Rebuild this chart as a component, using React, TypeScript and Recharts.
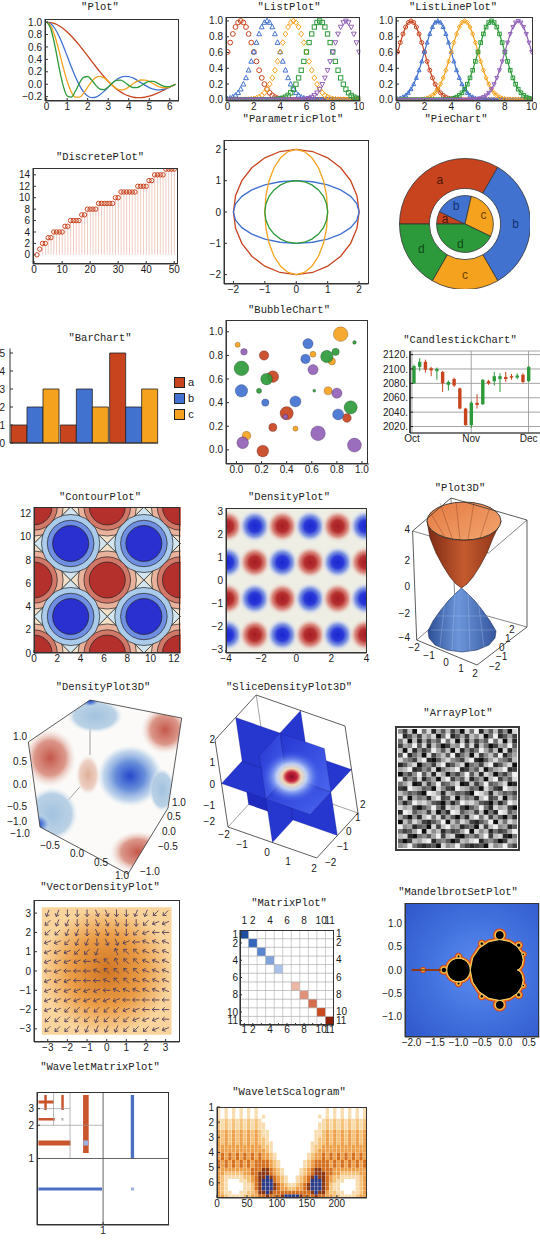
import React from 'react';
import {
  ComposedChart, ScatterChart, PieChart, Pie, Line, Bar, Scatter, Cell,
  XAxis, YAxis, ZAxis, CartesianGrid, ReferenceArea, ReferenceLine,
} from 'recharts';

const RED = '#c8441f';
const BLUE = '#4272d0';
const ORANGE = '#f5a31f';
const GREEN = '#2c9a3a';
const PURPLE = '#9261b7';
const SERIES = [RED, BLUE, ORANGE, GREEN, PURPLE];

const SANS = '"Liberation Sans", Arial, sans-serif';
const MONO = '"Liberation Mono", "DejaVu Sans Mono", monospace';
const TICK = { fill: '#1a1a1a', fontSize: 10, fontFamily: SANS };

const minus = (s: string) => s.replace('-', '\u2212');
const f0 = (v: number) => minus(String(v));
const f1 = (v: number) => minus(v.toFixed(1));
const range = (n: number) => Array.from({ length: n }, (_, i) => i);

/* ---------------- data ---------------- */

// Plot
const PLOT_X = [0, 0.2, 0.4, 0.6, 0.8, 1, 1.2, 1.4, 1.6, 1.8, 2, 2.2, 2.4, 2.6, 2.8, 3, 3.2, 3.4, 3.6, 3.8, 4, 4.2, 4.4, 4.6, 4.8, 5, 5.2, 5.4, 5.6, 5.8, 6, 6.2, 6.28];
const PLOT_RED = [1, 0.993, 0.974, 0.941, 0.897, 0.841, 0.777, 0.704, 0.625, 0.541, 0.455, 0.368, 0.281, 0.198, 0.12, 0.047, -0.018, -0.075, -0.123, -0.161, -0.189, -0.208, -0.216, -0.216, -0.208, -0.192, -0.17, -0.143, -0.113, -0.08, -0.047, -0.013, 0];
const PLOT_BLUE = [1, 0.974, 0.897, 0.777, 0.625, 0.455, 0.281, 0.12, -0.018, -0.123, -0.189, -0.216, -0.208, -0.17, -0.113, -0.047, 0.018, 0.073, 0.11, 0.127, 0.124, 0.102, 0.066, 0.024, -0.018, -0.054, -0.08, -0.091, -0.088, -0.071, -0.045, -0.013, 0];
const PLOT_ORANGE = [1, 0.941, 0.777, 0.541, 0.281, 0.047, -0.123, -0.208, -0.208, -0.143, -0.047, 0.047, 0.11, 0.128, 0.102, 0.046, -0.018, -0.069, -0.091, -0.081, -0.045, 0.003, 0.045, 0.068, 0.067, 0.043, 0.007, -0.029, -0.053, -0.057, -0.042, -0.013, 0];
const PLOT_GREEN = [1, 0.897, 0.625, 0.281, -0.018, -0.189, -0.208, -0.113, 0.018, 0.11, 0.124, 0.066, -0.018, -0.08, -0.088, -0.045, 0.018, 0.063, 0.067, 0.032, -0.018, -0.053, -0.054, -0.024, 0.018, 0.046, 0.045, 0.018, -0.018, -0.04, -0.038, -0.013, 0];

// ListPlot / ListLinePlot: one bump profile shifted to each centre
const LIST_CENTERS = [1, 3, 5, 7, 9];
const LIST_STEP = 0.2;
const LIST_COUNT = 51;
const BUMP = [1, 0.98, 0.923, 0.835, 0.726, 0.607, 0.487, 0.375, 0.278, 0.198, 0.135, 0.089, 0.056, 0.034, 0.02, 0.011, 0.006, 0.003, 0.002, 0.001];

// DiscretePlot
const PRIME_PI = [0, 1, 2, 2, 3, 3, 4, 4, 4, 4, 5, 5, 6, 6, 6, 6, 7, 7, 8, 8, 8, 8, 9, 9, 9, 9, 9, 9, 10, 10, 11, 11, 11, 11, 11, 11, 12, 12, 12, 12, 13, 13, 14, 14, 14, 14, 15, 15, 15, 15];

// shared unit shapes
const UNIT_CIRCLE: [number, number][] = [
  [1, 0], [0.966, 0.259], [0.866, 0.5], [0.707, 0.707], [0.5, 0.866], [0.259, 0.966],
  [0, 1], [-0.259, 0.966], [-0.5, 0.866], [-0.707, 0.707], [-0.866, 0.5], [-0.966, 0.259],
  [-1, 0], [-0.966, -0.259], [-0.866, -0.5], [-0.707, -0.707], [-0.5, -0.866], [-0.259, -0.966],
  [0, -1], [0.259, -0.966], [0.5, -0.866], [0.707, -0.707], [0.866, -0.5], [0.966, -0.259],
];
const DIAMOND: [number, number][] = [[1, 0], [0, 1], [-1, 0], [0, -1]];

// ParametricPlot: semi-axes of the four curves
const PARAM_RADII = [[2, 2], [2, 1], [1, 2], [1, 1]];

// PieChart
const PIE_KEYS = ['a', 'b', 'c', 'd'];
const PIE_OUTER = [2, 2, 1, 1];
const PIE_INNER = [1, 3, 4, 6];

// BarChart
const BAR_A = [1, 1, 5];
const BAR_B = [2, 3, 2];
const BAR_C = [3, 2, 3];

// BubbleChart
const BUB_X = [0.01, 0.06, 0.04, 0.04, 0.18, 0.22, 0.29, 0.24, 0.23, 0.08, 0.05, 0.21, 0.29, 0.4, 0.39, 0.47, 0.47, 0.57, 0.55, 0.61, 0.61, 0.62, 0.72, 0.79, 0.76, 0.83, 0.94, 0.73, 0.8, 0.91, 0.81, 0.88, 0.65, 0.94];
const BUB_Y = [0.89, 0.83, 0.69, 0.5, 0.5, 0.8, 0.62, 0.6, 0.4, 0.12, 0.06, -0.01, 0.19, 0.31, 0.28, 0.41, 0.18, 0.9, 0.77, 0.81, 0.68, 0.5, 0.79, 0.83, 0.75, 0.98, 0.91, 0.5, 0.48, 0.36, 0.3, 0.27, 0.14, 0.04];
const BUB_Z = [49, 81, 400, 289, 49, 169, 256, 256, 100, 144, 256, 256, 121, 324, 49, 225, 49, 196, 169, 64, 196, 16, 289, 100, 100, 400, 25, 121, 196, 324, 225, 144, 400, 361];
const BUB_S = [2, 4, 3, 1, 3, 0, 0, 3, 1, 2, 4, 0, 0, 0, 4, 1, 2, 1, 1, 2, 4, 3, 3, 3, 2, 2, 3, 2, 4, 3, 1, 0, 4, 4];

// CandlestickChart (days since 1 Oct)
const CANDLE_DAY = [1, 4, 7, 10, 13, 16, 19, 22, 25, 28, 31, 34, 37, 40, 43, 46, 49, 52, 55, 58, 61];
const CANDLE_OPEN = [2080, 2103, 2110, 2101, 2097, 2096, 2078, 2086, 2073, 2045, 2022, 2053, 2051, 2083, 2083, 2086, 2089, 2090, 2088, 2092, 2083];
const CANDLE_CLOSE = [2104, 2110, 2099, 2098, 2100, 2080, 2082, 2077, 2045, 2022, 2053, 2050, 2085, 2080, 2090, 2090, 2086, 2088, 2091, 2082, 2103];
const CANDLE_HIGH = [2106, 2115, 2113, 2103, 2102, 2097, 2084, 2088, 2074, 2046, 2055, 2065, 2086, 2085, 2096, 2094, 2096, 2093, 2094, 2094, 2104];
const CANDLE_LOW = [2079, 2097, 2095, 2090, 2085, 2068, 2070, 2075, 2044, 2021, 2018, 2045, 2050, 2078, 2077, 2068, 2082, 2085, 2086, 2080, 2082];

// ContourPlot: maxima / minima and contour radii
const CONT_MAX = [[0, 0], [6.283, 0], [12.566, 0], [0, 6.283], [6.283, 6.283], [12.566, 6.283], [0, 12.566], [6.283, 12.566], [12.566, 12.566]];
const CONT_MIN = [[3.142, 3.142], [9.425, 3.142], [3.142, 9.425], [9.425, 9.425]];
const CONT_RADII = [3.1416, 2.5, 2.0, 1.55];
const CONT_RED = ['#f2dfc8', '#e8b29c', '#d27868', '#b3302d'];
const CONT_BLUE = ['#d3e6ef', '#abcbeb', '#6f8fe3', '#2a2fcf'];

// DensityPlot
const DENS_X = [-3.93, -2.36, -0.79, 0.79, 2.36, 3.93];
const DENS_Y = [2.36, 0.79, -0.79, -2.36];
const DENS_SIGN = ['+-+-+-', '-+-+-+', '+-+-+-', '-+-+-+'];

// Plot3D (projected screen coordinates)
const P3_CUP = [[427, 521], [430, 538], [436, 553], [443, 566], [450, 577], [456, 584], [461.5, 588], [467, 584], [473, 577], [480, 566], [487, 553], [493, 538], [501, 521], [497, 530], [488, 536], [476, 539.5], [464, 540], [452, 539.5], [440, 536], [431, 530]];
const P3_RIM = [464, 521, 37, 19];
const P3_DOME = [[461.5, 588], [456, 593], [448, 601], [440, 611], [433, 621], [428, 631], [429, 638], [435, 645], [447, 650], [462, 652], [477, 650], [489, 645], [495, 638], [496, 631], [490, 621], [483, 611], [475, 601], [467, 593]];
const P3_BACK_EDGES = [[[451, 498], [455, 607]], [[416.7, 640], [455, 607]], [[455, 607], [527, 627]], [[412.6, 531], [488.6, 553]], [[488.6, 553], [527, 520]]];
const P3_FRONT_EDGES = [[[412.6, 531], [451, 498]], [[451, 498], [527, 520]], [[412.6, 531], [416.7, 640]], [[416.7, 640], [477, 665]], [[477, 665], [527, 627]], [[527, 520], [527, 627]]];
const P3_MESH = [[[440, 503], [452, 538]], [[456, 502], [460, 540]], [[474, 502], [468, 540]], [[490, 507], [480, 538]], [[430, 512], [446, 539]], [[445, 600], [440, 646]], [[455, 592], [452, 650]], [[468, 592], [470, 651]], [[478, 600], [484, 647]], [[437, 616], [489, 616]], [[431, 630], [495, 630]]];

// DensityPlot3D (projected screen coordinates, value = density sign/strength)
const D3_HEX = [[90, 700], [181.7, 718], [168, 808], [128, 874], [40, 827], [28.3, 742]];
const D3_BLOBS = [
  [95, 716, 28, 17, -0.5], [165, 730, 24, 24, 1], [50, 758, 26, 29, 1], [88, 775, 12, 20, 0.5],
  [130, 776, 33, 31, -1], [162, 790, 13, 22, -0.5], [52, 814, 26, 27, -0.5], [138, 852, 28, 21, 1],
  [90, 701, 10, 6, -1], [38, 824, 12, 10, -1],
];
const D3_INNER = [[[90, 726.7], [90, 755]], [[68.3, 800], [80, 786.7]]];

// SliceDensityPlot3D: projection of the box axes
const SL_O = [286.5, 776.5];
const SL_EX = [22.2, 7.75];
const SL_EY = [10.3, -11.25];
const SL_EZ = [-3.25, -21.75];
const SL_QUADS: [string, number, number, number][] = [
  ['z', -1, 1, 0], ['x', 1, -1, 0], ['y', -1, -1, 0],
  ['z', 1, 1, 1], ['z', -1, -1, 1], ['x', 1, 1, 1], ['x', -1, -1, 1], ['y', 1, -1, 1], ['y', -1, 1, 1],
  ['z', 1, -1, 2], ['x', -1, 1, 2], ['y', 1, 1, 2],
];

// ArrayPlot grey levels (0 white .. 9 black)
const ARR_ROWS = [
  '4729051836274915083627491', '0863724195086372419508637', '5192837460519283746051928',
  '7340618259734061825973406', '2918475036291847503629184', '6085391742608539174260853',
  '1457208963145720896314572', '8631954720863195472086319', '3208746195320874619532087',
  '9574062813957406281395740', '0746185392074618539207461', '5319827406531982740653198',
  '7802365914780236591478023', '2465790138246579013824657', '6193548207619354820761935',
  '4850213679485021367948502', '1327964058132796405813279', '8016437295801643729580164',
  '3694820517369482051736948', '9251378640925137864092513', '0438659172043865917204386',
  '5763091428576309142857630', '2189546307218954630721895', '6972310854697231085469723',
  '4305787691430578769143057',
];

// VectorDensityPlot: arrow directions in 16ths of a turn, rows y = 3 .. -3
const VEC_GRID = [-3, -2.5, -2, -1.5, -1, -0.5, 0, 0.5, 1, 1.5, 2, 2.5, 3];
const VEC_DIRS = [
  'bbcccddccbbaa', 'abbccdddcca99', 'aabbcdddca988', '99abbcdd98777', '999aab.566777',
  '9999876566777', '8988876666777', '9998887667777', '9999998777777', '9999999988888',
  '99aaaaaa99888', 'aaaaabaaa9998', 'aaabbbbbaaa99',
];

// MatrixPlot
const MAT_DIAG = [-5, -4, -3, -2, -1, 0, 1, 2, 3, 4, 5];
const MAT_LABELS = [1, 2, 4, 6, 8, 10, 11];
const MAT_COLORS: Record<number, string> = {
  [-5]: '#1d4f9e', [-4]: '#3466bd', [-3]: '#5a86cf', [-2]: '#80a3dc', [-1]: '#a9c2e9', 0: '#ffffff',
  1: '#ecb8a6', 2: '#e0927a', 3: '#d46d4d', 4: '#c94a1e', 5: '#8f1f06',
};

// MandelbrotSetPlot
const MB_CARDIOID = [[0.25, 0], [0.2665, 0.0044], [0.308, 0.0335], [0.3536, 0.1036], [0.375, 0.2165], [0.346, 0.358], [0.25, 0.5], [0.087, 0.608], [-0.125, 0.6495], [-0.3536, 0.6036], [-0.558, 0.4665], [-0.6995, 0.2544], [-0.75, 0]];
const MB_BULBS = [[-1, 0, 0.25], [-0.1226, 0.7449, 0.094], [-0.1226, -0.7449, 0.094], [-1.3107, 0, 0.058], [0.2822, 0.5301, 0.044], [0.2822, -0.5301, 0.044], [-0.5043, 0.5627, 0.037], [-0.5043, -0.5627, 0.037], [0.3795, 0.3349, 0.025], [0.3795, -0.3349, 0.025], [-1.7549, 0, 0.018], [-1.0, 0.29, 0.03], [-1.0, -0.29, 0.03]];

// WaveletMatrixPlot: coefficient blocks [x1, x2, y1, y2, value]
const WM_BLOCKS = [
  [0.697, 0.782, 1.083, 1.955, 1], [1.418, 1.469, 1.0, 1.955, -1], [0.021, 0.985, 0.519, 0.564, -1],
  [1.42, 1.47, 0.519, 0.564, -0.4], [0.7, 0.776, 1.196, 1.271, -0.4], [0.021, 0.508, 1.196, 1.271, 1],
  [0.021, 0.269, 1.571, 1.609, 1], [0.021, 0.254, 1.827, 1.872, 1], [0.11, 0.148, 1.729, 1.955, 1],
  [0.368, 0.405, 1.729, 1.955, 1], [0.37, 0.4, 1.57, 1.61, 0.2],
];
const WM_LINES = [[1, 0, 1, 2], [0, 1, 2, 1], [0.5, 1, 0.5, 2], [0, 1.5, 1, 1.5], [0.25, 1.5, 0.25, 2], [0, 1.75, 0.5, 1.75]];

// WaveletScalogram: magnitude level per cell, 24 scale rows x 40 time columns
const SCALO_STEP = 6.25;
const SCALO_ROWS = [
  '1010101010100' + '00000000000000' + '0010101010101',
  '1010101010100' + '00000000000000' + '0010101010101',
  '1010101010101' + '00000000000000' + '1010101010101',
  '2121212121210' + '00000000000000' + '0121212121212',
  '2121212121211' + '00000000000000' + '1121212121212',
  '2121212121211' + '00000000000000' + '1121212121212',
  '3232323232321' + '10000000000001' + '1232323232323',
  '3232323232321' + '10000000000001' + '1232323232323',
  '3232323232322' + '10000000000001' + '2232323232323',
  '3232323232322' + '11000000000011' + '2232323232323',
  '3333333333332' + '21000000000012' + '2333333333333',
  '3333333333333' + '21000000000012' + '3333333333333',
  '3434343434343' + '32100000000123' + '3434343434343',
  '3434343434343' + '32100000000123' + '3434343434343',
  '4343434343444' + '43210000001234' + '4443434343434',
  '4343434343444' + '43210000001234' + '4443434343434',
  '3333333334445' + '54321000012345' + '5444333333333',
  '3322222334455' + '54321000012345' + '5544332222233',
  '3211111223455' + '65432100123456' + '5543221111123',
  '3210001123456' + '66432100123466' + '6543211000123',
  '3210000112456' + '66543211234566' + '6542110000123',
  '3210000112456' + '66543322334566' + '6542110000123',
  '3211001122355' + '65444444444456' + '5532211001123',
  '3321111223344' + '54445666654445' + '4433221111233',
];
const SCALO_COLORS = ['#ffffff', '#f9dcae', '#f5c27a', '#eda04a', '#d46f1e', '#8a3712', '#2a3a86'];

/* ---------------- helpers ---------------- */

type Pt = { x: number; y: number };
type Box = { l: number; t: number; r: number; b: number };

const shapeAt = (unit: [number, number][], cx: number, cy: number, rx: number, ry: number): Pt[] =>
  unit.map(([u, v]) => ({ x: cx + u * rx, y: cy + v * ry }));
const pts = (list: number[][]): Pt[] => list.map(([x, y]) => ({ x, y }));

const NoDot = () => <g />;

function poly(key: string, data: Pt[], fill: string, stroke = 'none', strokeWidth = 0.8, closed = true) {
  return (
    <Scatter
      key={key}
      data={data}
      shape={NoDot}
      line={{ fill, stroke, strokeWidth }}
      lineType="joint"
      lineJointType={closed ? 'linearClosed' : 'linear'}
      isAnimationActive={false}
    />
  );
}

const YW = 34;
const XH = 16;
const at = (box: Box, pad = 2): React.CSSProperties => ({ position: 'absolute', left: box.l - YW, top: box.t - pad });
const dims = (box: Box, pad = 2) => ({
  width: box.r - box.l + YW + 4,
  height: box.b - box.t + pad + XH,
  margin: { top: pad, right: 4, bottom: 0, left: 0 },
});
const X_PROPS = { height: XH, tickSize: -3, tickMargin: 5, tick: TICK, stroke: '#333', allowDataOverflow: true, interval: 0 as const };
const Y_PROPS = { width: YW, tickSize: -3, tickMargin: 6, tick: TICK, stroke: '#333', allowDataOverflow: true, interval: 0 as const };

function FrameBox({ box, w = 1 }: { box: Box; w?: number }) {
  return (
    <div style={{
      position: 'absolute', left: box.l, top: box.t, width: box.r - box.l, height: box.b - box.t,
      border: `${w}px solid #333`, boxSizing: 'border-box', pointerEvents: 'none',
    }} />
  );
}

function Lbl({ x, y, t, size = 10, anchor = 'middle' }: { x: number; y: number; t: string; size?: number; anchor?: string }) {
  const tx = anchor === 'end' ? '-100%' : anchor === 'start' ? '0' : '-50%';
  return (
    <div style={{
      position: 'absolute', left: x, top: y, transform: `translate(${tx}, -50%)`, fontSize: size,
      fontFamily: SANS, color: '#1a1a1a', whiteSpace: 'nowrap', lineHeight: 1,
    }}>{t}</div>
  );
}

function Screen({ l, t, w, h, children }: { l: number; t: number; w: number; h: number; children: React.ReactNode }) {
  return (
    <div style={{ position: 'absolute', left: l, top: t }}>
      <ScatterChart width={w} height={h} margin={{ top: 0, right: 0, bottom: 0, left: 0 }}>
        <XAxis type="number" dataKey="x" domain={[l, l + w]} hide allowDataOverflow />
        <YAxis type="number" dataKey="y" domain={[t, t + h]} reversed hide allowDataOverflow />
        {children}
      </ScatterChart>
    </div>
  );
}

function marker(kind: number, color: string, s = 2.4) {
  return (p: any) => {
    const { cx, cy } = p;
    if (cx == null || cy == null) return <g />;
    const st = { fill: 'none', stroke: color, strokeWidth: 1 };
    if (kind === 0) return <circle cx={cx} cy={cy} r={s} {...st} />;
    if (kind === 1) return <path d={`M${cx},${cy - s * 1.15}L${cx + s},${cy + s * 0.75}L${cx - s},${cy + s * 0.75}Z`} {...st} />;
    if (kind === 2) return <path d={`M${cx},${cy - s * 1.2}L${cx + s},${cy}L${cx},${cy + s * 1.2}L${cx - s},${cy}Z`} {...st} />;
    if (kind === 3) return <rect x={cx - s * 0.9} y={cy - s * 0.9} width={s * 1.8} height={s * 1.8} {...st} />;
    return <path d={`M${cx},${cy + s * 1.15}L${cx + s},${cy - s * 0.75}L${cx - s},${cy - s * 0.75}Z`} {...st} />;
  };
}

function Defs() {
  const stop = (o: number, c: string, a = 1) => <stop key={o} offset={o} stopColor={c} stopOpacity={a} />;
  return (
    <svg width={0} height={0} style={{ position: 'absolute' }}>
      <defs>
        <radialGradient id="dRed">{[stop(0, '#a51c24'), stop(0.35, '#b6302f'), stop(0.62, '#d77a70', 0.85), stop(0.85, '#ecd3c8', 0.4), stop(1, '#f1efe6', 0)]}</radialGradient>
        <radialGradient id="dBlue">{[stop(0, '#1a25d0'), stop(0.35, '#2a3ad8'), stop(0.62, '#7088e0', 0.85), stop(0.85, '#d0daf0', 0.4), stop(1, '#f1efe6', 0)]}</radialGradient>
        <radialGradient id="vdBg">{[stop(0, '#d07524'), stop(0.55, '#eb9c45'), stop(1, '#f9d49c')]}</radialGradient>
        <radialGradient id="mbBg" cx="0.55" cy="0.5" r="0.7">{[stop(0, '#5f8ef0'), stop(0.5, '#4272de'), stop(1, '#3058cc')]}</radialGradient>
        <linearGradient id="cupOut" x1="0" x2="1" y1="0" y2="0">{[stop(0, '#7c2a14'), stop(0.5, '#c45a2e'), stop(1, '#8a3217')]}</linearGradient>
        <linearGradient id="cupIn" x1="0" x2="1" y1="0" y2="1">{[stop(0, '#e47a42'), stop(1, '#f3a56f')]}</linearGradient>
        <linearGradient id="dome" x1="0" x2="1" y1="0" y2="0">{[stop(0, '#2d4f96'), stop(0.45, '#6c96da'), stop(1, '#34559e')]}</linearGradient>
        <radialGradient id="d3Red">{[stop(0, '#c4574a'), stop(0.6, '#d88d7e', 0.9), stop(1, '#efd8d0', 0)]}</radialGradient>
        <radialGradient id="d3LRed">{[stop(0, '#e0ad98'), stop(0.7, '#e8c4b4', 0.8), stop(1, '#f3e4df', 0)]}</radialGradient>
        <radialGradient id="d3Blue">{[stop(0, '#2447cc'), stop(0.45, '#5f88d8', 0.95), stop(0.8, '#a9c6e6', 0.7), stop(1, '#d5e4f2', 0)]}</radialGradient>
        <radialGradient id="d3LBlue">{[stop(0, '#a2c2df'), stop(0.75, '#b3cde3', 0.9), stop(1, '#e6eef6', 0)]}</radialGradient>
        <linearGradient id="slBlue" x1="0" x2="1" y1="0" y2="1">{[stop(0, '#2535d2'), stop(1, '#4a66ee')]}</linearGradient>
        <radialGradient id="slGlow">{[stop(0, '#8c0a28'), stop(0.18, '#c4243a'), stop(0.32, '#f0d8b8'), stop(0.5, '#d4e4f8', 0.85), stop(0.75, '#6f8ef0', 0.5), stop(1, '#3a55e6', 0)]}</radialGradient>
      </defs>
    </svg>
  );
}

const TITLES: [string, number, number][] = [
  ['Plot', 100, 7], ['ListPlot', 289, 7], ['ListLinePlot', 453, 7],
  ['DiscretePlot', 100, 157], ['ParametricPlot', 293, 119], ['PieChart', 456, 119],
  ['BarChart', 100, 338], ['BubbleChart', 289, 310], ['CandlestickChart', 460, 340],
  ['ContourPlot', 100, 497], ['DensityPlot', 289, 497], ['Plot3D', 460, 488],
  ['DensityPlot3D', 103, 687], ['SliceDensityPlot3D', 289, 687], ['ArrayPlot', 458, 713],
  ['VectorDensityPlot', 100, 887], ['MatrixPlot', 289, 903], ['MandelbrotSetPlot', 458, 892],
  ['WaveletMatrixPlot', 100, 1067], ['WaveletScalogram', 289, 1092],
];

/* ---------------- panels ---------------- */

const PLOT_BOX = { l: 45, t: 19, r: 179, b: 101 };
function PlotPanel() {
  const rows = PLOT_X.map((x, i) => ({ x, a: PLOT_RED[i], b: PLOT_BLUE[i], c: PLOT_ORANGE[i], d: PLOT_GREEN[i] }));
  return (
    <div style={at(PLOT_BOX)}>
      <ComposedChart {...dims(PLOT_BOX)} data={rows}>
        <XAxis type="number" dataKey="x" domain={[-0.08, 6.45]} ticks={[0, 1, 2, 3, 4, 5, 6]} {...X_PROPS} />
        <YAxis type="number" domain={[-0.27, 1.05]} ticks={[-0.2, 0, 0.2, 0.4, 0.6, 0.8, 1]} tickFormatter={f1} {...Y_PROPS} />
        {['a', 'b', 'c', 'd'].map((k, i) => (
          <Line key={k} dataKey={k} type="monotone" stroke={SERIES[i]} strokeWidth={1.3} dot={false} isAnimationActive={false} />
        ))}
      </ComposedChart>
    </div>
  );
}

const LIST_ROWS = range(LIST_COUNT).map((i) => {
  const x = +(i * LIST_STEP).toFixed(1);
  const row: any = { x };
  LIST_CENTERS.forEach((c, k) => {
    row['s' + k] = BUMP[Math.round(Math.abs(x - c) / LIST_STEP)] ?? 0;
  });
  return row;
});

const LIST_BOX = { l: 225.6, t: 17, r: 360, b: 101 };
function ListPlotPanel() {
  return (
    <div style={at(LIST_BOX)}>
      <ScatterChart {...dims(LIST_BOX)}>
        <XAxis type="number" dataKey="x" domain={[-0.12, 10.1]} ticks={[0, 2, 4, 6, 8, 10]} {...X_PROPS} />
        <YAxis type="number" dataKey="y" domain={[-0.015, 1.05]} ticks={[0, 0.2, 0.4, 0.6, 0.8, 1]} tickFormatter={f1} {...Y_PROPS} />
        {LIST_CENTERS.map((_, k) => (
          <Scatter key={k} data={LIST_ROWS.map((r) => ({ x: r.x, y: r['s' + k] }))} shape={marker(k, SERIES[k], 2.4)} isAnimationActive={false} />
        ))}
      </ScatterChart>
    </div>
  );
}

const LLP_BOX = { l: 396, t: 17, r: 533, b: 101 };
function ListLinePanel() {
  return (
    <div style={at(LLP_BOX)}>
      <ComposedChart {...dims(LLP_BOX)} data={LIST_ROWS}>
        <XAxis type="number" dataKey="x" domain={[-0.12, 10.1]} ticks={[0, 2, 4, 6, 8, 10]} {...X_PROPS} />
        <YAxis type="number" domain={[-0.015, 1.05]} ticks={[0, 0.2, 0.4, 0.6, 0.8, 1]} tickFormatter={f1} {...Y_PROPS} />
        {LIST_CENTERS.map((_, k) => (
          <Line key={k} dataKey={'s' + k} type="linear" stroke={SERIES[k]} strokeWidth={1.2} dot={marker(k, SERIES[k], 2)} isAnimationActive={false} />
        ))}
      </ComposedChart>
    </div>
  );
}

const DISC_BOX = { l: 33.4, t: 168, r: 178, b: 264 };
function DiscretePanel() {
  const rows = PRIME_PI.map((v, i) => ({ n: i + 1, v }));
  return (
    <div style={at(DISC_BOX)}>
      <ComposedChart {...dims(DISC_BOX)} data={rows}>
        <XAxis type="number" dataKey="n" domain={[-0.4, 51.2]} ticks={[0, 10, 20, 30, 40, 50]} {...X_PROPS} />
        <YAxis type="number" domain={[-1.6, 15.2]} ticks={[0, 2, 4, 6, 8, 10, 12, 14]} {...Y_PROPS} />
        <Bar dataKey="v" barSize={1} fill="#efcdc3" isAnimationActive={false} />
        <Line dataKey="v" stroke="none" dot={marker(0, RED, 2.2)} isAnimationActive={false} />
      </ComposedChart>
    </div>
  );
}

const PARAM_BOX = { l: 224, t: 140, r: 368.5, b: 284 };
function ParametricPanel() {
  return (
    <div style={at(PARAM_BOX)}>
      <ScatterChart {...dims(PARAM_BOX)}>
        <XAxis type="number" dataKey="x" domain={[-2.3, 2.3]} ticks={[-2, -1, 0, 1, 2]} tickFormatter={f0} {...X_PROPS} />
        <YAxis type="number" dataKey="y" domain={[-2.3, 2.3]} ticks={[-2, -1, 0, 1, 2]} tickFormatter={f0} {...Y_PROPS} />
        {PARAM_RADII.map(([rx, ry], i) => poly('p' + i, shapeAt(UNIT_CIRCLE, 0, 0, rx, ry), 'none', SERIES[i], 1.3))}
      </ScatterChart>
    </div>
  );
}

const RAD = Math.PI / 180;
const PIE_TEXT = ['#4d1506', '#12306e', '#6b4200', '#0f4a16'];
function pieLabel(ratio: number) {
  return (p: any) => {
    const r = p.innerRadius + (p.outerRadius - p.innerRadius) * ratio;
    const x = p.cx + r * Math.cos(-p.midAngle * RAD);
    const y = p.cy + r * Math.sin(-p.midAngle * RAD);
    return (
      <text x={x} y={y} textAnchor="middle" dominantBaseline="central" fontSize={12} fontFamily={SANS} fill={PIE_TEXT[p.index]}>
        {p.name}
      </text>
    );
  };
}
function PiePanel() {
  const outer = PIE_KEYS.map((k, i) => ({ k, v: PIE_OUTER[i] }));
  const inner = PIE_KEYS.map((k, i) => ({ k, v: PIE_INNER[i] }));
  return (
    <div style={{ position: 'absolute', left: 390, top: 149 }}>
      <PieChart width={140} height={140}>
        <Pie data={outer} dataKey="v" nameKey="k" cx={70} cy={70} innerRadius={35.6} outerRadius={65.5} startAngle={180} endAngle={-180}
          stroke="#333" strokeWidth={0.8} label={pieLabel(0.5)} labelLine={false} isAnimationActive={false}>
          {outer.map((_, i) => <Cell key={i} fill={SERIES[i]} />)}
        </Pie>
        <Pie data={inner} dataKey="v" nameKey="k" cx={70} cy={70} innerRadius={0} outerRadius={28.4} startAngle={180} endAngle={-180}
          stroke="#333" strokeWidth={0.8} label={pieLabel(0.72)} labelLine={false} isAnimationActive={false}>
          {inner.map((_, i) => <Cell key={i} fill={SERIES[i]} />)}
        </Pie>
      </PieChart>
    </div>
  );
}

function BarPanel() {
  const rows = BAR_A.map((a, i) => ({ g: String(i + 1), a, b: BAR_B[i], c: BAR_C[i] }));
  return (
    <>
      <div style={{ position: 'absolute', left: 0, top: 344 }}>
        <ComposedChart width={160} height={109} margin={{ top: 4.5, right: 2, bottom: 0, left: 0 }} data={rows} barCategoryGap={1} barGap={0}>
          <XAxis dataKey="g" tick={false} height={10} stroke="#333" tickLine={false} />
          <YAxis type="number" domain={[0, 5.25]} ticks={[0, 1, 2, 3, 4, 5]} interval={0} width={10} tick={TICK} tickSize={-3} tickMargin={8} stroke="#333" />
          {['a', 'b', 'c'].map((k, i) => (
            <Bar key={k} dataKey={k} fill={SERIES[i]} stroke="#222" strokeWidth={0.8} isAnimationActive={false} />
          ))}
        </ComposedChart>
      </div>
      {['a', 'b', 'c'].map((k, i) => (
        <React.Fragment key={k}>
          <div style={{ position: 'absolute', left: 174, top: 377 + i * 16, width: 9, height: 9, background: SERIES[i], border: '1px solid #222' }} />
          <Lbl x={191} y={382 + i * 16} t={k} size={11} />
        </React.Fragment>
      ))}
    </>
  );
}

const BUB_BOX = { l: 225.6, t: 320, r: 368.5, b: 464 };
function BubblePanel() {
  const all = BUB_X.map((x, i) => ({ x, y: BUB_Y[i], z: BUB_Z[i], s: BUB_S[i] }));
  return (
    <div style={at(BUB_BOX)}>
      <ScatterChart {...dims(BUB_BOX)}>
        <XAxis type="number" dataKey="x" domain={[-0.083, 1.055]} ticks={[0, 0.2, 0.4, 0.6, 0.8, 1]} tickFormatter={f1} {...X_PROPS} />
        <YAxis type="number" dataKey="y" domain={[-0.12, 1.1]} ticks={[0, 0.2, 0.4, 0.6, 0.8, 1]} tickFormatter={f1} {...Y_PROPS} />
        <ZAxis type="number" dataKey="z" domain={[0, 400]} range={[0, 170]} />
        {SERIES.map((c, s) => (
          <Scatter key={s} data={all.filter((b) => b.s === s)} fill={c} fillOpacity={0.92} stroke="rgba(0,0,0,0.35)" strokeWidth={0.6} isAnimationActive={false} />
        ))}
      </ScatterChart>
    </div>
  );
}

function Candle(props: any) {
  const { x, y, width, height, payload } = props;
  if (!payload) return <g />;
  const top = Math.min(y, y + height);
  const h = Math.abs(height);
  const { open, close, high, low } = payload;
  const span = high - low || 1;
  const py = (v: number) => top + ((high - v) / span) * h;
  const cx = x + width / 2;
  const color = close >= open ? GREEN : RED;
  const b0 = py(Math.max(open, close));
  const b1 = py(Math.min(open, close));
  return (
    <g>
      <line x1={cx} x2={cx} y1={top} y2={top + h} stroke={color} strokeWidth={1} />
      <rect x={cx - 1.7} y={b0} width={3.4} height={Math.max(b1 - b0, 1)} fill={color} />
    </g>
  );
}
const MONTHS: Record<number, string> = { 0: 'Oct', 31: 'Nov', 61: 'Dec' };
function CandlePanel() {
  const rows = CANDLE_DAY.map((day, i) => ({
    day, range: [CANDLE_LOW[i], CANDLE_HIGH[i]], open: CANDLE_OPEN[i], close: CANDLE_CLOSE[i], high: CANDLE_HIGH[i], low: CANDLE_LOW[i],
  }));
  return (
    <div style={{ position: 'absolute', left: 365, top: 348 }}>
      <ComposedChart width={180} height={99} margin={{ top: 3, right: 0, bottom: 0, left: 0 }} data={rows}>
        <CartesianGrid stroke="#9a9a9a" strokeWidth={0.9} />
        <XAxis type="number" dataKey="day" domain={[-1, 69.6]} ticks={[0, 31, 61]} interval={0} tickFormatter={(d: number) => MONTHS[d] ?? ''}
          height={14} tick={TICK} tickSize={0} tickMargin={2} stroke="#222" />
        <YAxis type="number" domain={[2011, 2125]} ticks={[2020, 2040, 2060, 2080, 2100, 2120]} interval={0} tickFormatter={(v: number) => v + '.'}
          width={45} tick={TICK} tickSize={-3} tickMargin={5} stroke="#222" axisLine={{ stroke: '#222', strokeWidth: 1.6 }} />
        <Bar dataKey="range" barSize={4} shape={Candle} isAnimationActive={false} />
      </ComposedChart>
    </div>
  );
}

const CONT_BOX = { l: 33.5, t: 507, r: 180, b: 653 };
function ContourPanel() {
  const layers: React.ReactNode[] = [];
  CONT_RADII.forEach((r, lvl) => {
    const unit = lvl === 0 ? DIAMOND : UNIT_CIRCLE;
    CONT_MAX.forEach(([x, y], i) => layers.push(poly(`r${lvl}-${i}`, shapeAt(unit, x, y, r, r), CONT_RED[lvl], '#222', 0.7)));
    CONT_MIN.forEach(([x, y], i) => layers.push(poly(`b${lvl}-${i}`, shapeAt(unit, x, y, r, r), CONT_BLUE[lvl], '#222', 0.7)));
  });
  return (
    <div style={at(CONT_BOX)}>
      <ScatterChart {...dims(CONT_BOX)}>
        <XAxis type="number" dataKey="x" domain={[0, 12.566]} ticks={[0, 2, 4, 6, 8, 10, 12]} {...X_PROPS} />
        <YAxis type="number" dataKey="y" domain={[0, 12.566]} ticks={[0, 2, 4, 6, 8, 10, 12]} {...Y_PROPS} />
        {layers}
      </ScatterChart>
    </div>
  );
}

const DENS_BOX = { l: 226, t: 508, r: 366.5, b: 653 };
function DensityPanel() {
  const blobs: React.ReactNode[] = [];
  DENS_Y.forEach((y, ri) => DENS_X.forEach((x, ci) => {
    const pos = DENS_SIGN[ri][ci] === '+';
    blobs.push(poly(`d${ri}-${ci}`, shapeAt(UNIT_CIRCLE, x, y, 0.95, 0.74), pos ? 'url(#dRed)' : 'url(#dBlue)'));
  }));
  return (
    <div style={at(DENS_BOX)}>
      <ScatterChart {...dims(DENS_BOX)}>
        <XAxis type="number" dataKey="x" domain={[-4, 4]} ticks={[-4, -2, 0, 2, 4]} tickFormatter={f0} {...X_PROPS} />
        <YAxis type="number" dataKey="y" domain={[-3.15, 3.15]} ticks={[-3, -2, -1, 0, 1, 2, 3]} tickFormatter={f0} {...Y_PROPS} />
        {poly('bg', pts([[-4.2, -3.3], [4.2, -3.3], [4.2, 3.3], [-4.2, 3.3]]), '#eeeee4')}
        {blobs}
      </ScatterChart>
    </div>
  );
}

function Plot3DPanel() {
  const edge = (list: number[][][], col: string, w: number, pre: string) =>
    list.map((e, i) => poly(pre + i, pts(e), 'none', col, w, false));
  const [rcx, rcy, rrx, rry] = P3_RIM;
  return (
    <>
      <Screen l={390} t={480} w={150} h={200}>
        {edge(P3_BACK_EDGES, '#555', 0.7, 'be')}
        {poly('cup', pts(P3_CUP), 'url(#cupOut)', '#3a1a0c', 0.6)}
        {poly('rim', shapeAt(UNIT_CIRCLE, rcx, rcy, rrx, rry), 'url(#cupIn)', '#222', 0.8)}
        {poly('dome', pts(P3_DOME), 'url(#dome)', '#1e2f5a', 0.6)}
        {edge(P3_MESH.slice(0, 5), 'rgba(90,30,10,0.55)', 0.5, 'mc')}
        {edge(P3_MESH.slice(5), 'rgba(190,210,245,0.6)', 0.5, 'md')}
        {edge(P3_FRONT_EDGES, '#333', 0.8, 'fe')}
      </Screen>
      {[['4', 530], ['2', 561], ['0', 587], ['\u22122', 614], ['\u22124', 638]].map(([t, y]) => (
        <Lbl key={'z' + t} x={410} y={y as number} t={t as string} anchor="end" />
      ))}
      {[['\u22122', 414, 648], ['\u22121', 429, 656], ['0', 446, 663], ['1', 461, 669], ['2', 475, 674]].map(([t, x, y]) => (
        <Lbl key={'x' + t} x={x as number} y={y as number} t={t as string} />
      ))}
      {[['2', 509, 630], ['1', 505, 639], ['0', 499, 648], ['\u22121', 496, 657], ['\u22122', 489, 667]].map(([t, x, y]) => (
        <Lbl key={'y' + t} x={x as number} y={y as number} t={t as string} anchor="start" />
      ))}
    </>
  );
}

function Density3DPanel() {
  const grad = (v: number) => (v >= 1 ? 'url(#d3Red)' : v > 0 ? 'url(#d3LRed)' : v <= -1 ? 'url(#d3Blue)' : 'url(#d3LBlue)');
  const L = 0;
  const T = 690;
  const W = 195;
  const H = 188;
  // white mask: chart rectangle with the cube outline cut out (reverse winding)
  const mask = pts([[L, T], [L + W, T], [L + W, T + H], [L, T + H], [L, T], ...[...D3_HEX].reverse(), D3_HEX[D3_HEX.length - 1], [L, T]]);
  return (
    <>
      <Screen l={L} t={T} w={W} h={H}>
        {poly('hexbg', pts(D3_HEX), '#fbfaf8')}
        {D3_INNER.map((e, i) => poly('in' + i, pts(e), 'none', '#666', 0.6, false))}
        {D3_BLOBS.map(([x, y, rx, ry, v], i) => poly('bl' + i, shapeAt(UNIT_CIRCLE, x, y, rx, ry), grad(v)))}
        {poly('mask', mask, '#ffffff')}
        {poly('hex', pts(D3_HEX), 'none', '#333', 0.8)}
      </Screen>
      {[['1.0', 737], ['0.5', 762], ['0.0', 785], ['\u22120.5', 807], ['\u22121.0', 822]].map(([t, y]) => (
        <Lbl key={'l' + t} x={27} y={y as number} t={t as string} anchor="end" />
      ))}
      {[['\u22121.0', 20, 834], ['\u22120.5', 50, 846], ['0.0', 77, 854], ['0.5', 101, 863], ['1.0', 122, 876]].map(([t, x, y]) => (
        <Lbl key={'b' + t} x={x as number} y={y as number} t={t as string} />
      ))}
      {[['1.0', 172, 803], ['0.5', 167, 817], ['0.0', 162, 832], ['\u22120.5', 158, 847], ['\u22121.0', 140, 872]].map(([t, x, y]) => (
        <Lbl key={'r' + t} x={x as number} y={y as number} t={t as string} anchor="start" />
      ))}
    </>
  );
}

const proj = (x: number, y: number, z: number): Pt => ({
  x: SL_O[0] + x * SL_EX[0] + y * SL_EY[0] + z * SL_EZ[0],
  y: SL_O[1] + x * SL_EX[1] + y * SL_EY[1] + z * SL_EZ[1],
});
function SlicePanel() {
  const quad = (plane: string, a: number, b: number): Pt[] => {
    if (plane === 'z') return [proj(0, 0, 0), proj(2 * a, 0, 0), proj(2 * a, 2 * b, 0), proj(0, 2 * b, 0)];
    if (plane === 'x') return [proj(0, 0, 0), proj(0, 2 * a, 0), proj(0, 2 * a, 2 * b), proj(0, 0, 2 * b)];
    return [proj(0, 0, 0), proj(2 * a, 0, 0), proj(2 * a, 0, 2 * b), proj(0, 0, 2 * b)];
  };
  const shades = ['#1f2bbf', '#2637d0', 'url(#slBlue)'];
  const c = (x: number, y: number, z: number) => proj(x, y, z);
  const edges = [
    [c(-2, -2, 2), c(-2, 2, 2)], [c(-2, 2, 2), c(2, 2, 2)], [c(2, 2, 2), c(2, 2, -2)],
    [c(2, 2, -2), c(2, -2, -2)], [c(2, -2, -2), c(-2, -2, -2)], [c(-2, -2, -2), c(-2, -2, 2)],
  ];
  const back = [[c(-2, 2, 2), c(-2, 2, -2)], [c(-2, 2, -2), c(-2, -2, -2)], [c(-2, 2, -2), c(2, 2, -2)]];
  const g = proj(0.3, -0.1, 0.15);
  return (
    <>
      <Screen l={195} t={690} w={180} h={185}>
        {back.map((e, i) => poly('sb' + i, e, 'none', '#666', 0.6, false))}
        {SL_QUADS.map(([p, a, b, d], i) => poly('q' + i, quad(p, a, b), shades[d], 'rgba(20,20,90,0.5)', 0.4))}
        {poly('glow', shapeAt(UNIT_CIRCLE, g.x, g.y, 30, 26), 'url(#slGlow)')}
        {edges.map((e, i) => poly('se' + i, e, 'none', '#333', 0.8, false))}
      </Screen>
      {[['2', 740], ['1', 763], ['0', 785], ['\u22121', 806], ['\u22122', 822]].map(([t, y]) => (
        <Lbl key={'l' + t} x={215} y={y as number} t={t as string} anchor="end" />
      ))}
      {[['\u22122', 224, 835], ['\u22121', 242, 845], ['0', 267, 853], ['1', 288, 862], ['2', 314, 869]].map(([t, x, y]) => (
        <Lbl key={'b' + t} x={x as number} y={y as number} t={t as string} />
      ))}
      {[['2', 360, 805], ['1', 355, 818], ['0', 346, 832], ['\u22121', 337, 847], ['\u22122', 325, 863]].map(([t, x, y]) => (
        <Lbl key={'r' + t} x={x as number} y={y as number} t={t as string} anchor="start" />
      ))}
    </>
  );
}

function ArrayPanel() {
  const n = ARR_ROWS.length;
  const rows = range(n).map((c) => {
    const row: any = { c };
    range(n).forEach((r) => { row['r' + r] = 1; });
    return row;
  });
  const grey = (d: number) => {
    const g = Math.round(240 - d * 25);
    return `rgb(${g},${g},${g})`;
  };
  return (
    <div style={{ position: 'absolute', left: 395, top: 726, width: 125, height: 125, border: '2px solid #3a3a3a', boxSizing: 'border-box', padding: 1, background: '#fff' }}>
      <ComposedChart width={119} height={119} margin={{ top: 0, right: 0, bottom: 0, left: 0 }} data={rows} barCategoryGap={0} barGap={0}>
        <XAxis dataKey="c" hide />
        <YAxis type="number" domain={[0, n]} hide />
        {range(n).reverse().map((r) => (
          <Bar key={r} dataKey={'r' + r} stackId="a" isAnimationActive={false}>
            {rows.map((_, c) => <Cell key={c} fill={grey(+(ARR_ROWS[r][c] ?? '5'))} />)}
          </Bar>
        ))}
      </ComposedChart>
    </div>
  );
}

function Arrow(props: any) {
  const { cx, cy, payload } = props;
  if (cx == null || payload?.a == null) return <g />;
  const ang = (-payload.a * Math.PI) / 180;
  const L = 3.6;
  const dx = Math.cos(ang) * L;
  const dy = Math.sin(ang) * L;
  const tx = cx + dx;
  const ty = cy + dy;
  const hl = 3.4;
  const h1 = [tx - hl * Math.cos(ang - 0.7), ty - hl * Math.sin(ang - 0.7)];
  const h2 = [tx - hl * Math.cos(ang + 0.7), ty - hl * Math.sin(ang + 0.7)];
  return (
    <g stroke="#4e3e5c" strokeWidth={0.9} fill="none">
      <line x1={cx - dx} y1={cy - dy} x2={tx} y2={ty} />
      <path d={`M${h1[0]},${h1[1]}L${tx},${ty}L${h2[0]},${h2[1]}`} />
    </g>
  );
}
const VEC_BOX = { l: 34.4, t: 900, r: 179.8, b: 1042 };
function VectorPanel() {
  const arrows = VEC_DIRS.flatMap((row, ri) => row.split('').map((ch, ci) => ({
    x: VEC_GRID[ci], y: VEC_GRID[VEC_GRID.length - 1 - ri], a: ch === '.' ? null : parseInt(ch, 16) * 22.5,
  })));
  return (
    <div style={at(VEC_BOX)}>
      <ScatterChart {...dims(VEC_BOX)}>
        <XAxis type="number" dataKey="x" domain={[-3.7, 3.7]} ticks={[-3, -2, -1, 0, 1, 2, 3]} tickFormatter={f0} {...X_PROPS} />
        <YAxis type="number" dataKey="y" domain={[-3.68, 3.68]} ticks={[-3, -2, -1, 0, 1, 2, 3]} tickFormatter={f0} {...Y_PROPS} />
        {poly('vbg', pts([[-3.3, -3.3], [3.3, -3.3], [3.3, 3.3], [-3.3, 3.3]]), 'url(#vdBg)')}
        <Scatter data={arrows} shape={Arrow} isAnimationActive={false} />
      </ScatterChart>
    </div>
  );
}

const MAT_BOX = { l: 240, t: 930, r: 334, b: 1025 };
function MatrixPanel() {
  const n = MAT_DIAG.length;
  const rows = range(n).map((ci) => {
    const row: any = { col: ci + 1 };
    range(n).forEach((ri) => { row['r' + (ri + 1)] = 1; });
    return row;
  });
  const val = (ri: number, ci: number) => (ri === ci ? MAT_DIAG[ri] : 0);
  const cw = (MAT_BOX.r - MAT_BOX.l) / n;
  const ch = (MAT_BOX.b - MAT_BOX.t) / n;
  return (
    <>
      <div style={{ position: 'absolute', left: MAT_BOX.l - 16, top: MAT_BOX.t }}>
        <ComposedChart width={94 + 16} height={95 + 14} margin={{ top: 0, right: 0, bottom: 0, left: 0 }} data={rows} barCategoryGap={0} barGap={0}>
          <XAxis dataKey="col" interval={0} tickFormatter={(c: number) => (MAT_LABELS.includes(c) ? String(c) : '')}
            height={14} tick={TICK} tickSize={-2} tickMargin={3} stroke="#333" />
          <YAxis type="number" domain={[0, n]} ticks={MAT_LABELS.map((r) => n - r + 0.5)} interval={0} tickFormatter={(v: number) => String(n + 0.5 - v)}
            width={16} tick={TICK} tickSize={-2} tickMargin={4} stroke="#333" />
          {range(n).reverse().map((ri) => (
            <Bar key={ri} dataKey={'r' + (ri + 1)} stackId="m" isAnimationActive={false}>
              {rows.map((_, ci) => <Cell key={ci} fill={MAT_COLORS[val(ri, ci)]} stroke="#a8a8a8" strokeWidth={0.5} />)}
            </Bar>
          ))}
        </ComposedChart>
      </div>
      <FrameBox box={MAT_BOX} />
      {MAT_LABELS.map((c) => <Lbl key={'t' + c} x={MAT_BOX.l + (c - 0.5) * cw} y={MAT_BOX.t - 9} t={String(c)} />)}
      {MAT_LABELS.map((r) => <Lbl key={'r' + r} x={MAT_BOX.r + 2} y={MAT_BOX.t + (r - 0.5) * ch} t={String(r)} anchor="start" />)}
    </>
  );
}

const MB_BOX = { l: 404.7, t: 903, r: 539, b: 1037 };
function MandelbrotPanel() {
  const card = pts([...MB_CARDIOID, ...MB_CARDIOID.slice(1, -1).reverse().map(([x, y]) => [x, -y])]);
  const shapes = [card, ...MB_BULBS.map(([x, y, r]) => shapeAt(UNIT_CIRCLE, x, y, r, r))];
  const antenna = pts([[-2, 0], [-1.37, 0]]);
  return (
    <div style={at(MB_BOX)}>
      <ScatterChart {...dims(MB_BOX)}>
        <XAxis type="number" dataKey="x" domain={[-2.14, 0.72]} ticks={[-2, -1.5, -1, -0.5, 0, 0.5]} tickFormatter={f1} {...X_PROPS} />
        <YAxis type="number" dataKey="y" domain={[-1.43, 1.43]} ticks={[-1, -0.5, 0, 0.5, 1]} tickFormatter={f1} {...Y_PROPS} />
        {poly('mbg', pts([[-2.2, -1.5], [0.8, -1.5], [0.8, 1.5], [-2.2, 1.5]]), 'url(#mbBg)')}
        {poly('ant0', antenna, 'none', '#e0561c', 1.8, false)}
        {shapes.map((s, i) => poly('g' + i, s, 'none', '#d24a1a', 4.5))}
        {shapes.map((s, i) => poly('o' + i, s, 'none', '#ff9a2c', 2.4))}
        {shapes.map((s, i) => poly('k' + i, s, '#000', '#ffe070', 0.9))}
        {poly('ant1', antenna, 'none', '#000', 0.7, false)}
      </ScatterChart>
    </div>
  );
}

const WM_BOX = { l: 37.2, t: 1092, r: 169.4, b: 1225 };
const WM_TICKS: Record<number, string> = { 1: '1', 1.5: '2', 1.75: '3' };
function WaveletMatrixPanel() {
  const color = (v: number) => (v >= 1 ? '#c9552c' : v <= -1 ? '#4a70c4' : v < 0 ? '#9bb2e2' : '#b0b0b0');
  return (
    <>
      <div style={at(WM_BOX)}>
        <ScatterChart {...dims(WM_BOX)}>
          <XAxis type="number" dataKey="x" domain={[0, 2]} ticks={[1]} {...X_PROPS} />
          <YAxis type="number" dataKey="y" domain={[0, 2]} ticks={[1, 1.5, 1.75]} tickFormatter={(v: number) => WM_TICKS[v] ?? ''} {...Y_PROPS} />
          <Scatter data={[{ x: 0, y: 0 }, { x: 2, y: 2 }]} shape={NoDot} isAnimationActive={false} />
          {WM_LINES.map(([x1, y1, x2, y2], i) => (
            <ReferenceLine key={'l' + i} segment={[{ x: x1, y: y1 }, { x: x2, y: y2 }]} stroke={i < 2 ? '#555' : '#9a9a9a'} strokeWidth={i < 2 ? 0.9 : 0.7} ifOverflow="visible" />
          ))}
          {WM_BLOCKS.map(([x1, x2, y1, y2, v], i) => (
            <ReferenceArea key={'b' + i} x1={x1} x2={x2} y1={y1} y2={y2} fill={color(v)} fillOpacity={1} stroke="none" ifOverflow="visible" />
          ))}
        </ScatterChart>
      </div>
      <FrameBox box={WM_BOX} w={1.4} />
    </>
  );
}

const SCALO_BOX = { l: 217, t: 1107, r: 366.8, b: 1198 };
function ScalogramPanel() {
  const nCols = SCALO_ROWS[0].length;
  const nRows = SCALO_ROWS.length;
  const rows = range(nCols).map((c) => {
    const row: any = { x: (c + 0.5) * SCALO_STEP };
    range(nRows).forEach((r) => { row['r' + r] = 6 / nRows; });
    return row;
  });
  return (
    <div style={at(SCALO_BOX, 8)}>
      <ComposedChart {...dims(SCALO_BOX, 8)} data={rows} barGap={0}>
        <XAxis type="number" dataKey="x" domain={[0, 250]} ticks={[0, 50, 100, 150, 200]} {...X_PROPS} />
        <YAxis type="number" domain={[0, 6]} ticks={[1, 2, 3, 4, 5, 6]} tickFormatter={(v: number) => String(7 - v)} {...Y_PROPS} />
        {range(nRows).reverse().map((r) => (
          <Bar key={r} dataKey={'r' + r} stackId="s" barSize={3.9} isAnimationActive={false}>
            {rows.map((_, c) => <Cell key={c} fill={SCALO_COLORS[+SCALO_ROWS[r][c]]} />)}
          </Bar>
        ))}
      </ComposedChart>
    </div>
  );
}

export default function App() {
  const framed: Box[] = [PLOT_BOX, LIST_BOX, LLP_BOX, DISC_BOX, PARAM_BOX, BUB_BOX, CONT_BOX, DENS_BOX, VEC_BOX, MB_BOX, SCALO_BOX];
  return (
    <div style={{ position: 'absolute', left: 0, top: 0, width: 540, height: 1243, overflow: 'hidden', background: '#fff', fontFamily: SANS }}>
      <Defs />
      <PlotPanel />
      <ListPlotPanel />
      <ListLinePanel />
      <DiscretePanel />
      <ParametricPanel />
      <PiePanel />
      <BarPanel />
      <BubblePanel />
      <CandlePanel />
      <ContourPanel />
      <DensityPanel />
      <Plot3DPanel />
      <Density3DPanel />
      <SlicePanel />
      <ArrayPanel />
      <VectorPanel />
      <MatrixPanel />
      <MandelbrotPanel />
      <WaveletMatrixPanel />
      <ScalogramPanel />
      {framed.map((b, i) => <FrameBox key={i} box={b} />)}
      {TITLES.map(([t, x, y]) => (
        <div key={t} style={{
          position: 'absolute', left: x, top: y, transform: 'translate(-50%, -50%)', fontFamily: MONO,
          fontSize: 10.5, color: '#222', whiteSpace: 'nowrap', lineHeight: 1,
        }}>{`"${t}"`}</div>
      ))}
    </div>
  );
}
